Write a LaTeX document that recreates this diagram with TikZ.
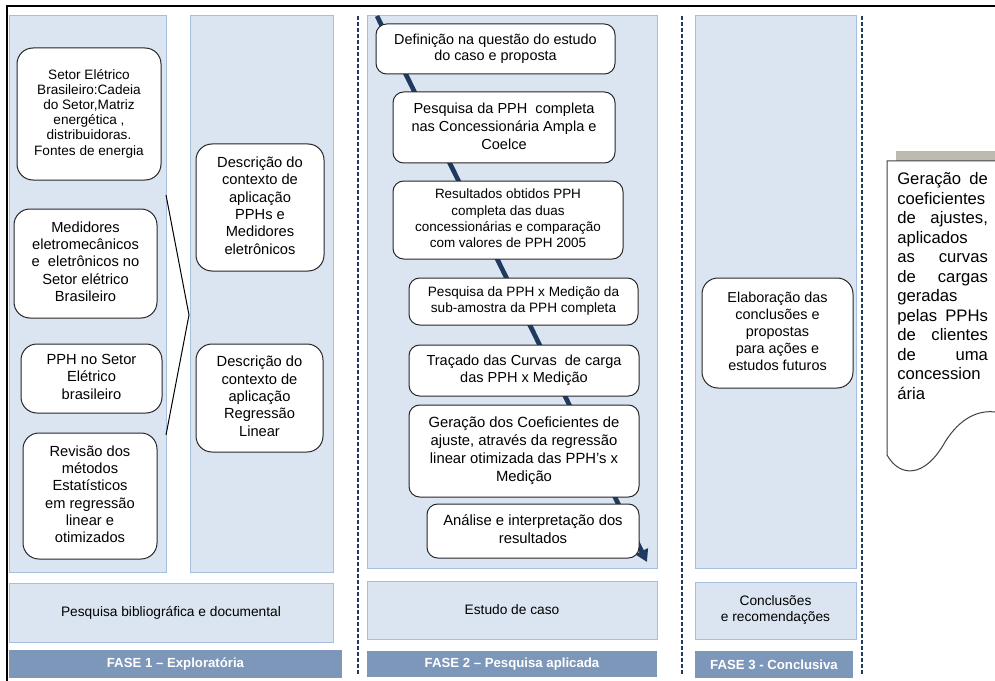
\documentclass[tikz,border=0pt]{standalone}
\usepackage{fontspec}
\setmainfont{Liberation Sans}
\usepackage{xcolor}
\usetikzlibrary{arrows.meta, positioning, calc}

\definecolor{panelblue}{HTML}{DBE5F1}
\definecolor{paneledge}{HTML}{A7BFDE}
\definecolor{fasebar}{HTML}{7D97BA}
\definecolor{navy}{HTML}{1F3A5F}
\definecolor{docgray}{HTML}{BDBBAF}

\begin{document}
\begin{tikzpicture}[x=0.75pt, y=-0.75pt,
    panel/.style={fill=panelblue, draw=paneledge, line width=0.75pt},
    stepbox/.style={draw=black!85, fill=white, rounded corners=12pt, line width=0.75pt,
        inner sep=0pt, font=\fontsize{11}{13}\selectfont},
    casebox/.style={stepbox, rounded corners=8pt},
    fasebox/.style={fill=fasebar, inner sep=0pt, text=white,
        font=\bfseries\fontsize{9.9}{11}\selectfont},
    phaseline/.style={navy, line width=1.5pt, dash pattern=on 3pt off 1.5pt}]
\useasboundingbox (0,0) rectangle (995,681);

% column panels
\draw[panel] (9,16) rectangle (166,572);
\draw[panel] (190,16) rectangle (333,572);
\draw[panel] (367,16) rectangle (657,568);
\draw[panel] (695,16) rectangle (856,568);

\node[panel, minimum width=243pt, minimum height=44.25pt, inner sep=0pt,
    font=\fontsize{10.3}{12}\selectfont] (pesqbib) at (171,612.5) {Pesquisa bibliográfica e documental};
\node[panel, minimum width=217.5pt, minimum height=43.5pt, inner sep=0pt,
    font=\fontsize{10.3}{12}\selectfont] (estudo) at (512,610) {Estudo de caso};
\node[panel, minimum width=120.75pt, minimum height=42.75pt, inner sep=0pt,
    font=\fontsize{10.3}{11.3}\selectfont] (conclu) at (775.5,610.5) {
    \begin{tabular}{@{}c@{}}
    Conclusões\\
    e recomendações
    \end{tabular}
};

\node[fasebox, minimum width=249.75pt, minimum height=21pt] (fase1) at (175.5,664) {FASE 1 – Exploratória};
\node[fasebox, minimum width=217.5pt, minimum height=19.5pt] (fase2) at (512,664) {FASE 2 – Pesquisa aplicada};
\node[fasebox, minimum width=118.5pt, minimum height=20.25pt] (fase3) at (774,664.5) {FASE 3 - Conclusiva};

\foreach \xd in {358,682,862}
    \draw[phaseline] (\xd,16) -- (\xd,676);

% fase 1
\node[stepbox, minimum width=108pt, minimum height=99pt, font=\fontsize{10.2}{11.4}\selectfont] (setor) at (89,114) {
    \begin{tabular}{@{}c@{}}
    Setor Elétrico\\
    Brasileiro:Cadeia\\
    do Setor,Matriz\\
    energética ,\\
    distribuidoras.\\
    Fontes de energia
    \end{tabular}
};
\node[stepbox, minimum width=107.25pt, minimum height=81.75pt] (medid) at (85.5,263.5) {
    \begin{tabular}{@{}c@{}}
    Medidores\\
    eletromecânicos\\
    e\ \ eletrônicos no\\
    Setor elétrico\\
    Brasileiro
    \end{tabular}
};
\node[stepbox, minimum width=105.75pt, minimum height=51.75pt] (pphset) at (91.5,378.5) {
    \begin{tabular}{@{}c@{}}
    PPH no Setor\\
    Elétrico\\
    brasileiro
    \end{tabular}
};
\node[stepbox, minimum width=100.5pt, minimum height=94.5pt] (revisao) at (90,496) {
    \begin{tabular}{@{}c@{}}
    Revisão dos\\
    métodos\\
    Estatísticos\\
    em regressão\\
    linear e\\
    otimizados
    \end{tabular}
};
\node[stepbox, minimum width=96pt, minimum height=95.25pt] (descpph) at (260,207.5) {
    \begin{tabular}{@{}c@{}}
    Descrição do\\
    contexto de\\
    aplicação\\
    PPHs e\\
    Medidores\\
    eletrônicos
    \end{tabular}
};
\node[stepbox, minimum width=95.25pt, minimum height=81pt] (descreg) at (259.5,398) {
    \begin{tabular}{@{}c@{}}
    Descrição do\\
    contexto de\\
    aplicação\\
    Regressão\\
    Linear
    \end{tabular}
};

\coordinate (ctop) at (166,195);
\coordinate (ctip) at (189,315);
\coordinate (cbot) at (166,435);
\draw[line width=0.75pt] (ctop) -- (ctip) -- (cbot);

% fase 2
\coordinate (astart) at (377,16);
\coordinate (aend) at (647,562);
\draw[navy, line width=3.5pt, -{Triangle[length=9pt,width=10pt]}] (astart) -- (aend);

\node[casebox, minimum width=179.25pt, minimum height=37.5pt, font=\fontsize{10.8}{11.8}\selectfont] (defin) at (495.5,49) {
    \begin{tabular}{@{}c@{}}
    Definição na questão do estudo\\
    do caso e proposta
    \end{tabular}
};
\node[casebox, minimum width=166.5pt, minimum height=53.25pt, font=\fontsize{10.9}{13.5}\selectfont] (pesqcomp) at (504,127.5) {
    \begin{tabular}{@{}c@{}}
    Pesquisa da PPH\ \ completa\\
    nas Concessionária Ampla e\\
    Coelce
    \end{tabular}
};
\node[casebox, minimum width=172.5pt, minimum height=58.5pt, font=\fontsize{10.1}{12.2}\selectfont] (result) at (508,220) {
    \begin{tabular}{@{}c@{}}
    Resultados obtidos PPH\\
    completa das duas\\
    concessionárias e comparação\\
    com valores de PPH 2005
    \end{tabular}
};
\node[casebox, minimum width=171.75pt, minimum height=35.25pt, font=\fontsize{10.2}{11.8}\selectfont] (pesqmed) at (523.5,301.5) {
    \begin{tabular}{@{}c@{}}
    Pesquisa da PPH x Medição da\\
    sub-amostra da PPH completa
    \end{tabular}
};
\node[casebox, minimum width=172.5pt, minimum height=38.25pt, font=\fontsize{10.9}{13.2}\selectfont] (tracado) at (524,370.5) {
    \begin{tabular}{@{}c@{}}
    Traçado das Curvas\ \ de carga\\
    das PPH x Medição
    \end{tabular}
};
\node[casebox, minimum width=172.5pt, minimum height=69pt, font=\fontsize{11.1}{13.5}\selectfont] (geracao) at (524,451) {
    \begin{tabular}{@{}c@{}}
    Geração dos Coeficientes de\\
    ajuste, através da regressão\\
    linear otimizada das PPH’s x\\
    Medição
    \end{tabular}
};
\node[casebox, minimum width=159pt, minimum height=40.5pt, font=\fontsize{11.1}{13.5}\selectfont] (analise) at (533,531) {
    \begin{tabular}{@{}c@{}}
    Análise e interpretação dos\\
    resultados
    \end{tabular}
};

% fase 3
\node[stepbox, minimum width=113.25pt, minimum height=82.5pt, font=\fontsize{10.8}{12.8}\selectfont] (elab) at (777.5,333) {
    \begin{tabular}{@{}c@{}}
    Elaboração das\\
    conclusões e\\
    propostas\\
    para ações e\\
    estudos futuros
    \end{tabular}
};

% documento
\fill[docgray] (896,151) rectangle (995,161);
\draw[fill=white, draw=black!75, line width=0.75pt] (995,161) -- (887,161) -- (887,455)
    .. controls (900,478) and (925,478) .. (945,442)
    .. controls (960,418) and (978,410) .. (995,412);
\node[anchor=north west, inner sep=0pt, font=\fontsize{12.5}{14.6}\selectfont] (doctext) at (897,171) {
    \begin{tabular}{@{}l@{}}
    \makebox[68pt][s]{Geração de}\\
    coeficientes\\
    \makebox[68pt][s]{de ajustes,}\\
    aplicados\\
    \makebox[68pt][s]{as curvas}\\
    \makebox[68pt][s]{de cargas}\\
    geradas\\
    \makebox[68pt][s]{pelas PPHs}\\
    \makebox[68pt][s]{de clientes}\\
    \makebox[68pt][s]{de uma}\\
    concession\\
    ária
    \end{tabular}
};

% moldura
\draw[line width=1.5pt] (7,681) -- (7,6) -- (995,6);
\end{tikzpicture}
\end{document}
